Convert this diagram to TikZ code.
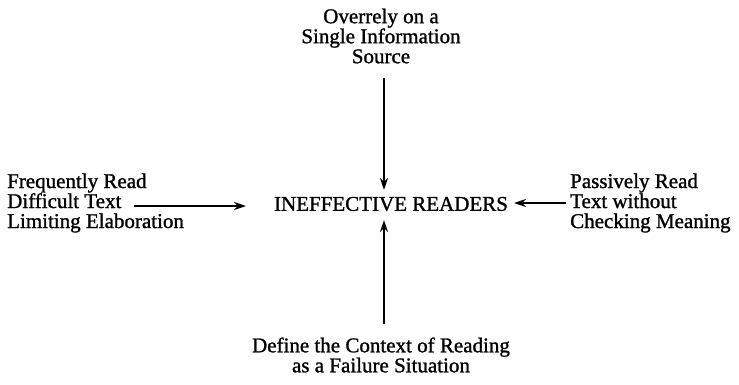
\documentclass[tikz,border=0pt]{standalone}
\usepackage{fontspec}
\setmainfont[FakeBold=1.2,AutoFakeBold=1.2]{Liberation Serif}
\usetikzlibrary{arrows.meta}
\begin{document}
\begin{tikzpicture}[x=1pt,y=-1pt,
  lbl/.style={font=\fontsize{21}{20}\selectfont\bfseries, inner sep=0pt, align=center},
  lbll/.style={lbl, align=left, anchor=west},
  conn/.style={line width=2.2pt, -{Stealth[length=12pt,width=8pt]}}]
\useasboundingbox (0,0) rectangle (739,384);
\node[lbl] (top) at (381,36) {Overrely on a\\Single Information\\Source};
\node[lbl] (mid) at (391,204) {INEFFECTIVE READERS};
\node[lbll] (left) at (7,203) {Frequently Read\\Difficult Text\\Limiting Elaboration};
\node[lbll] (right) at (570,203) {Passively Read\\Text without\\Checking Meaning};
\node[lbl] (bot) at (381,355) {Define the Context of Reading\\as a Failure Situation};
\coordinate (lt) at (134,206);
\coordinate (rt) at (566,203);
\coordinate (tt) at (384,78);
\coordinate (bt) at (384,324);
\coordinate (th) at (384,190);
\coordinate (lh) at (246,206);
\coordinate (rh) at (514,203);
\coordinate (bh) at (384,220);
\draw[conn] (tt) -- (th);
\draw[conn] (lt) -- (lh);
\draw[conn] (rt) -- (rh);
\draw[conn] (bt) -- (bh);
\end{tikzpicture}
\end{document}
